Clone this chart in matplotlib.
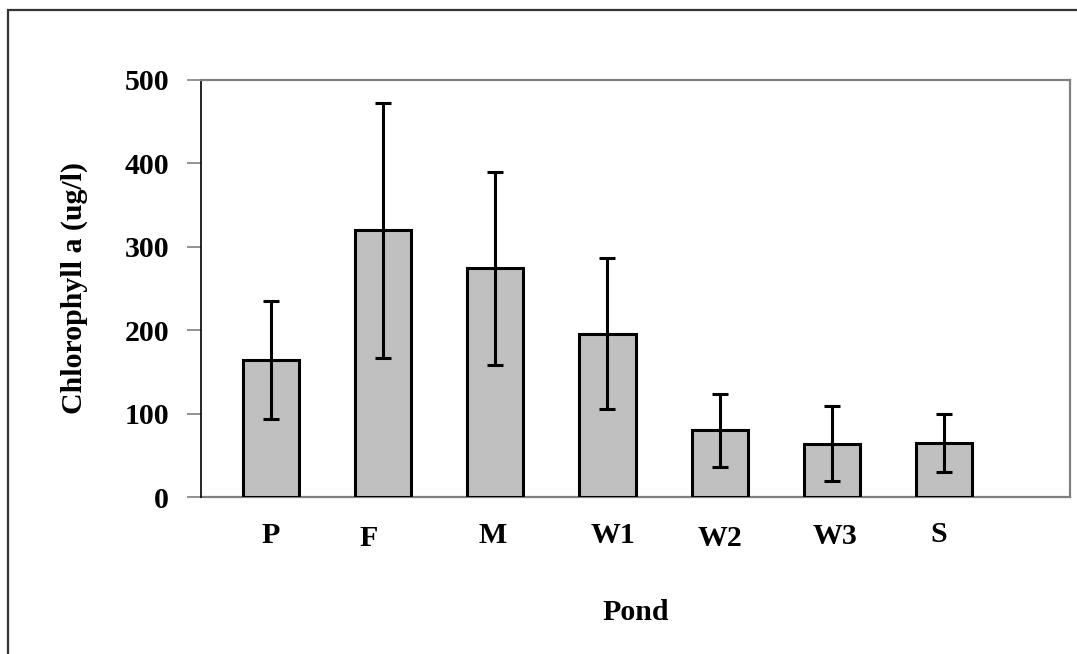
import matplotlib
matplotlib.use("Agg")
import matplotlib.pyplot as plt
from matplotlib.patches import Rectangle
import matplotlib.transforms as mtransforms

ponds = ["P", "F", "M", "W1", "W2", "W3", "S"]
chl_mean = [164, 320, 274, 196, 80, 64, 65]
chl_err = [71, 153, 116, 91, 44, 45, 35]
y_ticks = [0, 100, 200, 300, 400, 500]

plt.rcParams['font.family'] = ['Liberation Serif', 'DejaVu Serif']
plt.rcParams['font.weight'] = 'bold'

W, H = 1077, 654
FS = 21.5
fig = plt.figure(figsize=(W / 100, H / 100), dpi=100)
ax = fig.add_axes([201 / W, 1 - 497 / H, (1070 - 201) / W, (497 - 80) / H])

x = list(range(len(ponds)))
ax.bar(x, chl_mean, width=0.5, color='#c0c0c0', edgecolor='black',
       linewidth=2.2, zorder=3)
ax.errorbar(x, chl_mean, yerr=chl_err, fmt='none', ecolor='black',
            elinewidth=2.2, capsize=6, capthick=2.2, zorder=4)

ax.set_xlim(-0.62, 7.12)
ax.set_ylim(0, 500)
ax.set_yticks(y_ticks)
ax.set_yticklabels([str(v) for v in y_ticks], fontsize=FS, fontweight='bold')
ax.set_xticks(x)
ax.set_xticklabels(ponds, fontsize=FS, fontweight='bold')

ax.tick_params(axis='y', direction='out', length=10, width=1.2,
               color='#808080', pad=13)
ax.tick_params(axis='x', length=0, pad=18)

# small per-label shifts as in the original (pixels)
shifts = [(0, 0), (-14, -3), (-3, 0), (6, 0), (0, -3), (3, -1), (-6, 1)]
for lab, (dx, dy) in zip(ax.get_xticklabels(), shifts):
    lab.set_transform(lab.get_transform() +
                      mtransforms.ScaledTranslation(dx / 100, dy / 100, fig.dpi_scale_trans))

for side in ['top', 'right', 'bottom']:
    ax.spines[side].set_color('#808080')
    ax.spines[side].set_linewidth(1.6)
ax.spines['left'].set_color('black')
ax.spines['left'].set_linewidth(1.2)
ax.spines['bottom'].set_zorder(2)

ax.set_ylabel('Chlorophyll a (ug/l)', fontsize=FS, fontweight='bold', labelpad=26)
ax.set_xlabel('Pond', fontsize=FS, fontweight='bold', labelpad=34)

fig.patches.append(Rectangle((8 / W, -0.1), 1.2, 1 - 10 / H + 0.1,
                             transform=fig.transFigure, fill=False,
                             edgecolor='#333333', linewidth=1.6, clip_on=False))

fig.savefig('out.png', dpi=100)
